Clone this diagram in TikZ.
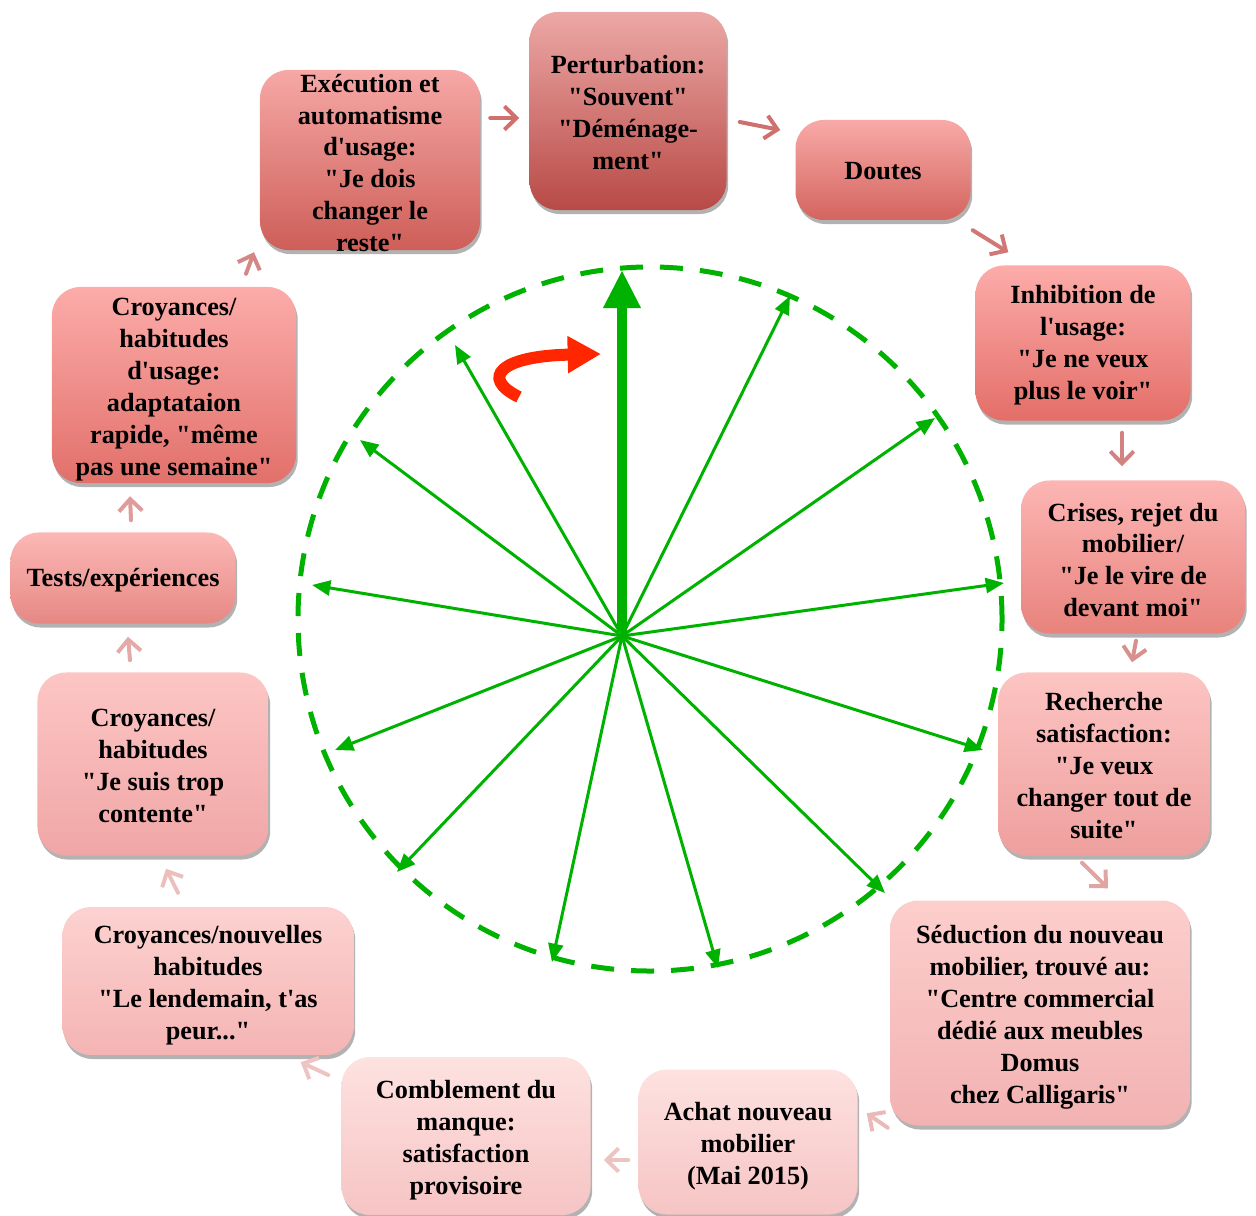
\documentclass[tikz,border=0pt]{standalone}
\usepackage{fontspec}
\newfontfamily\boxfont{Liberation Serif}
\usetikzlibrary{arrows.meta,shadows,calc}
\definecolor{ggreen}{RGB}{0,178,0}
\definecolor{rred}{RGB}{255,38,0}
\begin{document}
\begin{tikzpicture}[x=0.03cm,y=-0.03cm,
  boxshape/.style={rectangle, rounded corners=0.85cm, draw=none, inner sep=0pt,
    drop shadow={shadow xshift=0.05cm, shadow yshift=-0.12cm, opacity=0.5, fill=black!60}},
  boxtext/.style={align=center, inner sep=0pt, font=\boxfont\bfseries\fontsize{22.4}{27.3}\selectfont, text=black},
  parr/.style={line width=0.12cm, line cap=round, -{Straight Barb[length=0.36cm,width=0.7cm,line width=0.12cm]}},
  ray/.style={draw=ggreen, line width=0.09cm, -{Triangle[length=0.55cm,width=0.45cm]}},
]
\useasboundingbox (0,0) rectangle (1256,1216);

% boxes
\node[boxshape, minimum width=5.91cm, minimum height=5.94cm, top color={rgb,255:red,236;green,168;blue,166}, bottom color={rgb,255:red,184;green,74;blue,70}] (n1) at (628,111) {};
\node[boxshape, minimum width=5.25cm, minimum height=3.0cm, top color={rgb,255:red,248;green,170;blue,168}, bottom color={rgb,255:red,212;green,100;blue,94}] (n2) at (883,170) {};
\node[boxshape, minimum width=6.45cm, minimum height=4.65cm, top color={rgb,255:red,252;green,172;blue,170}, bottom color={rgb,255:red,228;green,110;blue,104}] (n3) at (1083,343) {};
\node[boxshape, minimum width=6.72cm, minimum height=4.59cm, top color={rgb,255:red,252;green,182;blue,180}, bottom color={rgb,255:red,232;green,130;blue,124}] (n4) at (1133,557) {};
\node[boxshape, minimum width=6.36cm, minimum height=5.49cm, top color={rgb,255:red,252;green,196;blue,194}, bottom color={rgb,255:red,238;green,160;blue,158}] (n5) at (1104,764) {};
\node[boxshape, minimum width=9.0cm, minimum height=6.75cm, top color={rgb,255:red,252;green,206;blue,204}, bottom color={rgb,255:red,242;green,178;blue,178}] (n6) at (1040,1013) {};
\node[boxshape, minimum width=6.57cm, minimum height=4.35cm, top color={rgb,255:red,253;green,226;blue,224}, bottom color={rgb,255:red,246;green,196;blue,196}] (n7) at (748,1142) {};
\node[boxshape, minimum width=7.47cm, minimum height=4.74cm, top color={rgb,255:red,253;green,226;blue,224}, bottom color={rgb,255:red,246;green,196;blue,196}] (n8) at (466,1136) {};
\node[boxshape, minimum width=8.73cm, minimum height=4.44cm, top color={rgb,255:red,252;green,210;blue,208}, bottom color={rgb,255:red,244;green,180;blue,180}] (n9) at (208,981) {};
\node[boxshape, minimum width=6.93cm, minimum height=5.49cm, top color={rgb,255:red,252;green,198;blue,196}, bottom color={rgb,255:red,240;green,166;blue,166}] (n10) at (153,764) {};
\node[boxshape, minimum width=6.75cm, minimum height=2.73cm, top color={rgb,255:red,252;green,184;blue,182}, bottom color={rgb,255:red,230;green,136;blue,132}] (n11) at (123,578) {};
\node[boxshape, minimum width=7.32cm, minimum height=5.88cm, top color={rgb,255:red,252;green,172;blue,170}, bottom color={rgb,255:red,226;green,112;blue,106}] (n12) at (174,385) {};
\node[boxshape, minimum width=6.6cm, minimum height=5.4cm, top color={rgb,255:red,246;green,168;blue,166}, bottom color={rgb,255:red,206;green,94;blue,88}] (n13) at (370,160) {};

% texts
\node[boxtext] (t1) at (628,113) {Perturbation:\\"Souvent"\\"Déménage-\\ment"};
\node[boxtext] (t2) at (883,171) {Doutes};
\node[boxtext] (t3) at (1083,345) {Inhibition de\\l'usage:\\"Je ne veux\\plus le voir"};
\node[boxtext] (t4) at (1133,560) {Crises, rejet du\\mobilier/\\"Je le vire de\\devant moi"};
\node[boxtext] (t5) at (1104,766) {Recherche\\satisfaction:\\"Je veux\\changer tout de\\suite"};
\node[boxtext] (t6) at (1040,1017) {Séduction du nouveau\\mobilier, trouvé au:\\"Centre commercial\\dédié aux meubles\\Domus\\chez Calligaris"};
\node[boxtext] (t7) at (748,1146) {Achat nouveau\\mobilier\\(Mai 2015)};
\node[boxtext] (t8) at (466,1140) {Comblement du\\manque:\\satisfaction\\provisoire};
\node[boxtext] (t9) at (208,985) {Croyances/nouvelles\\habitudes\\"Le lendemain, t'as\\peur..."};
\node[boxtext] (t10) at (153,766) {Croyances/\\habitudes\\"Je suis trop\\contente"};
\node[boxtext] (t11) at (123,580) {Tests/expériences};
\node[boxtext] (t12) at (174,390) {Croyances/\\habitudes\\d'usage:\\adaptataion\\rapide, "même\\pas une semaine"};
\node[boxtext] (t13) at (370,163) {Exécution et\\automatisme\\d'usage:\\"Je dois\\changer le\\reste"};

% cycle arrows
\draw[parr, draw={rgb,255:red,206;green,112;blue,110}] ([shift={(10,-42)}]n13.east) -- ([shift={(-10,7)}]n1.west);
\draw[parr, draw={rgb,255:red,206;green,112;blue,110}] ([shift={(13,11)}]n1.east) -- ([shift={(-15,-40)}]n2.west);
\draw[parr, draw={rgb,255:red,208;green,120;blue,118}] ([shift={(2,10)}]n2.south east) -- ([shift={(33,-13)}]n3.north west);
\draw[parr, draw={rgb,255:red,210;green,130;blue,128}] ([shift={(39,12)}]n3.south) -- ([shift={(-11,-14)}]n4.north);
\draw[parr, draw={rgb,255:red,216;green,144;blue,142}] ([shift={(3,7)}]n4.south) -- ([shift={(28,-10)}]n5.north);
\draw[parr, draw={rgb,255:red,224;green,164;blue,162}] ([shift={(-22,7)}]n5.south) -- ([shift={(68,-12)}]n6.north);
\draw[parr, draw={rgb,255:red,234;green,186;blue,184}] ([shift={(-2,2)}]n6.south west) -- ([shift={(9,44)}]n7.north east);
\draw[parr, draw={rgb,255:red,238;green,196;blue,194}] ([shift={(-10,18)}]n7.west) -- ([shift={(13,24)}]n8.east);
\draw[parr, draw={rgb,255:red,238;green,196;blue,194}] ([shift={(-13,-61)}]n8.west) -- ([shift={(-53,7)}]n9.south east);
\draw[parr, draw={rgb,255:red,236;green,190;blue,188}] ([shift={(-30,-14)}]n9.north) -- ([shift={(13,13)}]n10.south);
\draw[parr, draw={rgb,255:red,228;green,170;blue,168}] ([shift={(-23,-12)}]n10.north) -- ([shift={(5,13)}]n11.south);
\draw[parr, draw={rgb,255:red,222;green,156;blue,154}] ([shift={(8,-12)}]n11.north) -- ([shift={(-44,13)}]n12.south);
\draw[parr, draw={rgb,255:red,212;green,136;blue,134}] ([shift={(72,-13)}]n12.north) -- ([shift={(-116,2)}]n13.south);

% dashed circle
\coordinate (cc) at (650,619);
\draw[ggreen, line width=0.15cm, dash pattern=on 0.69cm off 0.51cm] (cc) circle [radius=10.56cm];

% rays
\coordinate (o) at (622,636);
\coordinate (r0) at (622,270);
\coordinate (r1) at (790,296);
\coordinate (r2) at (935,418);
\coordinate (r3) at (1004,583);
\coordinate (r4) at (983,750);
\coordinate (r5) at (885,893);
\coordinate (r6) at (718,968);
\coordinate (r7) at (552,962);
\coordinate (r8) at (397,872);
\coordinate (r9) at (335,750);
\coordinate (r10) at (312,585);
\coordinate (r11) at (360,440);
\coordinate (r12) at (455,345);
\foreach \i in {1,...,12} \draw[ray] (o) -- (r\i);
\draw[draw=ggreen, line width=0.3cm, -{Triangle[length=1.14cm,width=1.05cm]}] (o) -- (r0);

% red curved arrow
\coordinate (h0) at (519,397);
\coordinate (h1) at (601,354);
\draw[draw=rred, line width=0.36cm, -{Triangle[length=1.0cm,width=1.05cm]}] (h0) .. controls (480,378) and (500,356) .. (h1);
\end{tikzpicture}
\end{document}
